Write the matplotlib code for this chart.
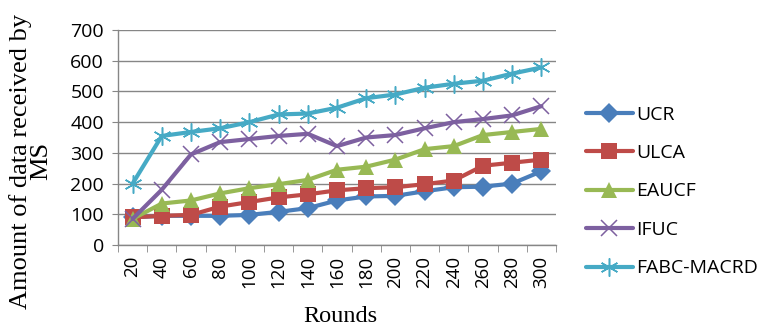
import numpy as np
import matplotlib.pyplot as plt

# Datos
rounds = ["20", "40", "60", "80", "100", "120", "140", "160", "180", "200",
          "220", "240", "260", "280", "300"]
ucr = [90, 95, 95, 95, 98, 108, 120, 145, 158, 160, 175, 188, 190, 200, 240]
ulca = [90, 95, 98, 125, 140, 155, 165, 178, 185, 188, 198, 210, 258, 268, 278]
eaucf = [85, 135, 145, 168, 185, 198, 212, 245, 255, 278, 312, 322, 358, 368, 378]
ifuc = [85, 180, 295, 335, 345, 355, 362, 322, 350, 358, 380, 400, 410, 422, 452]
fabc = [200, 355, 368, 380, 400, 425, 428, 447, 478, 490, 512, 525, 535, 558, 578]

series = [
    ("UCR", ucr, "#4A7EBB", "D", 10),
    ("ULCA", ulca, "#BE4B48", "s", 11),
    ("EAUCF", eaucf, "#98B954", "^", 12),
    ("IFUC", ifuc, "#7D60A0", "x", 12),
    ("FABC-MACRD", fabc, "#46AAC5", "*", 0),
]

tick_font = "Open Sans"
fig = plt.figure(figsize=(7.6, 3.29), dpi=100)
ax = fig.add_axes([118 / 760, 84 / 329, 438 / 760, 215 / 329])

x = np.arange(len(rounds))
handles = []
for name, vals, col, mk, ms in series:
    if mk == "*":
        # asterisco tipo Excel
        h, = ax.plot(x, vals, color=col, lw=3, marker=(6, 2, 0), ms=13,
                     mew=1.1, label=name, solid_capstyle="round")
    elif mk == "x":
        h, = ax.plot(x, vals, color=col, lw=3, marker="x", ms=ms, mew=1.1,
                     label=name, solid_capstyle="round")
    else:
        h, = ax.plot(x, vals, color=col, lw=3, marker=mk, ms=ms, mew=0,
                     label=name, solid_capstyle="round")
    handles.append(h)

ax.set_xlim(-0.5, len(rounds) - 0.5)
ax.set_ylim(0, 700)
ax.set_yticks(range(0, 701, 100))
ax.set_xticks(x)
ax.set_xticklabels(rounds, rotation=90, fontsize=13.5, family=tick_font)
ax.set_xticks(np.arange(-0.5, len(rounds), 1), minor=True)
ax.tick_params(axis="x", which="major", length=0, pad=8)
ax.tick_params(axis="x", which="minor", length=5, color="#868686", direction="out")
ax.tick_params(axis="y", length=4, color="#868686", direction="out", labelsize=14, pad=6)
for lbl in ax.get_yticklabels():
    lbl.set_family(tick_font)

ax.grid(axis="y", color="#868686", lw=1)
ax.set_axisbelow(True)
for s in ["top", "right"]:
    ax.spines[s].set_visible(False)
for s in ["left", "bottom"]:
    ax.spines[s].set_color("#868686")
    ax.spines[s].set_linewidth(1)

fig.text(31 / 760, 1 - 161 / 329, "Amount of data received by\nMS", rotation=90,
         ha="center", va="center", multialignment="center",
         family="Liberation Serif", fontsize=19, linespacing=0.9)
fig.text(340 / 760, 1 - 316 / 329, "Rounds", ha="center", va="center",
         family="Liberation Serif", fontsize=17.5)

fig.legend(handles=handles, loc="center left", bbox_to_anchor=(586 / 760, 1 - 191.5 / 329),
           frameon=False, borderpad=0, borderaxespad=0, handlelength=2.4,
           handletextpad=0.2, labelspacing=1.05, prop={"family": tick_font, "size": 14})

fig.savefig("out.png", dpi=100)
